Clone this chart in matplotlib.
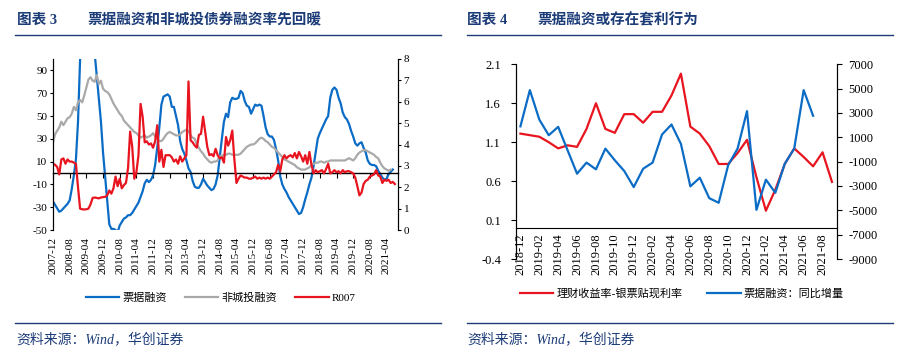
import numpy as np
import pandas as pd
import matplotlib
matplotlib.use('Agg')
import matplotlib.pyplot as plt
from matplotlib.lines import Line2D

plt.rcParams['font.family'] = ['Liberation Serif', 'Noto Sans CJK SC']
plt.rcParams['axes.unicode_minus'] = False

NAVY = '#1c3c78'
BLUE = '#0b6cc6'
RED = '#e8141f'
GRAY = '#a9a9a9'

# ---- left chart: monthly, 2007-12 .. 2021-08
months_l = pd.date_range('2007-12-01', periods=165, freq='MS').strftime('%Y-%m').tolist()

# 票据融资 yoy (%), left axis
bill_yoy = [-25, -28, -31, -34, -33, -31, -29, -27, -24, -14, -2, 12, 45, 100, 135, 155, 165, 160, 150, 130,
            105, 85, 65, 45, 18, -3, -25, -45, -49, -49, -50, -52, -46, -43, -40, -39, -37, -37, -35, -32,
            -29, -26, -21, -16, -9, -6, -8, -6, -2, 7, 22, 40, 60, 67, 68, 69, 67, 58, 58, 50,
            42, 28, 21, 17, 11, 4, 1, -7, -12, -13, -13, -10, -5, -8, -11, -13, -15, -14, -10, -2,
            14, 30, 45, 52, 49, 62, 66, 65, 65, 66, 72, 70, 63, 59, 58, 52, 56, 60, 59, 60,
            59, 50, 40, 34, 32, 32, 29, 21, 11, -3, -10, -14, -17, -21, -24, -27, -30, -33, -36, -35,
            -30, -23, -17, -10, -4, 6, 18, 30, 35, 39, 43, 47, 50, 66, 73, 75, 73, 66, 61, 53,
            49, 47, 43, 37, 32, 26, 24, 26, 27, 22, 18, 11, 8, 7, 7, 6, 2, -1, -4, -6,
            -5, -1, 1, 3]

# 非城投融资 (%), left axis
noncity = [27, 34, 37, 40, 45, 42, 45, 48, 49, 52, 58, 55, 62, 64, 62, 68, 75, 82, 84, 81,
           80, 86, 78, 81, 74, 72, 71, 69, 65, 61, 58, 55, 52, 50, 46, 44, 42, 40, 38, 36,
           35, 33, 31, 32, 33, 31, 32, 33, 35, 32, 30, 28, 28, 30, 33, 35, 36, 35, 34, 33,
           33, 34, 36, 37, 38, 37, 33, 31, 30, 25, 22, 19, 17, 14, 12, 10, 9, 10, 10, 11,
           15, 15, 16, 16, 17, 17, 16, 16, 16, 16, 17, 19, 21, 23, 24, 25, 25, 26, 28, 30,
           31, 30, 28, 27, 25, 23, 22, 20, 18, 16, 14, 12, 11, 10, 9, 8, 7, 5, 4, 3,
           3, 3, 4, 5, 7, 8, 9, 9, 10, 10, 9, 10, 10, 11, 11, 11, 11, 11, 11, 11,
           11, 12, 13, 12, 11, 13, 16, 18, 19, 20, 20, 19, 18, 17, 16, 14, 13, 9, 6, 4,
           3, 2, 3]

# R007 (%), right axis
r007 = [3.1, 3.05, 2.95, 2.6, 3.3, 3.35, 3.1, 3.3, 3.2, 3.2, 3.15, 3.1, 2.0, 1.0, 0.97, 0.96, 0.97, 1.0, 1.2, 1.5,
        1.52, 1.5, 1.48, 1.52, 1.54, 1.55, 1.62, 1.85, 1.7, 1.95, 2.5, 2.05, 2.4, 1.95, 2.1, 2.2, 2.9, 4.6, 3.9, 2.4,
        2.7, 3.5, 5.9, 5.3, 4.1, 4.15, 4.0, 4.05, 3.85, 4.15, 4.9, 3.2, 3.75, 2.95, 3.5, 3.5, 3.5, 3.4, 3.2, 3.3,
        3.1, 3.45, 3.2, 3.35, 3.5, 6.95, 4.2, 4.1, 3.95, 3.85, 4.45, 4.5, 5.3, 4.6, 3.9, 3.5, 3.55, 3.45, 3.8, 3.5,
        3.35, 3.4, 3.15, 4.35, 3.95, 4.2, 4.65, 3.3, 2.2, 2.4, 2.55, 2.5, 2.45, 2.45, 2.4, 2.4, 2.45, 2.5, 2.4, 2.45,
        2.4, 2.45, 2.4, 2.45, 2.4, 2.5, 2.6, 2.7, 3.05, 2.75, 3.3, 3.5, 3.35, 3.45, 3.5, 3.4, 3.6, 3.35, 3.65, 3.45,
        3.2, 3.5, 3.1, 3.65, 3.05, 2.65, 2.8, 2.7, 2.75, 2.8, 2.65, 2.85, 3.1, 2.65, 2.7, 2.8, 2.7, 2.75, 2.65, 2.8,
        2.7, 2.75, 2.75, 2.7, 2.65, 2.45, 2.05, 1.62, 1.75, 2.15, 2.3, 2.35, 2.5, 2.55, 2.6, 2.8, 2.55, 2.5, 2.2, 2.35,
        2.3, 2.35, 2.2, 2.25, 2.15]

# ---- right chart: monthly, 2018-12 .. 2021-09
months_r = pd.date_range('2018-12-01', periods=34, freq='MS').strftime('%Y-%m').tolist()

# 理财收益率-银票贴现利率, left axis
spread = [1.21, 1.19, 1.17, 1.10, 1.02, 1.06, 1.04, 1.27, 1.60, 1.27, 1.22, 1.46, 1.46, 1.35, 1.49, 1.49, 1.70,
          1.98, 1.30, 1.21, 1.05, 0.82, 0.82, 0.96, 1.13, 0.65, 0.22, 0.49, 0.82, 1.02, 0.91, 0.79, 0.97, 0.59]
# 票据融资：同比增量, right axis
bill_inc = [1900, 4880, 2460, 1170, 1860, -70, -1990, -1080, -1630, 70, -890, -1770, -3090, -1580, -1080, 1230,
            2050, 460, -3030, -2320, -4000, -4380, -1300, 70, 3150, -4960, -2480, -3560, -1170, 70, 4880, 2770]

W, H = 908, 357
fig = plt.figure(figsize=(W / 100, H / 100), dpi=100)


def fx(px):
    return px / W


def fy(py):
    return 1 - py / H


# ================= left chart =================
ax1 = fig.add_axes([fx(53), fy(230), fx(345), 171 / H])
xl = np.arange(len(months_l))
ax1.plot(xl[:len(bill_yoy)], bill_yoy, color=BLUE, lw=1.6, label='票据融资')
ax1.plot(xl[:len(noncity)], noncity, color=GRAY, lw=1.6, label='非城投融资')
ax1.set_ylim(-50, 100)
ax1.set_yticks(np.arange(-50, 91, 20))
ax1.set_xlim(0, 165.5)
ax1.spines['top'].set_visible(False)
ax1.spines['bottom'].set_position(('data', 0))
ax1.spines['bottom'].set_linewidth(1.0)
ticks_l = xl[::8]
ax1.set_xticks(ticks_l)
ax1.set_xticklabels([])
ax1.tick_params(axis='x', direction='out', length=3.5, width=0.8)
ax1.tick_params(axis='y', direction='out', length=2.5, width=0.8, labelsize=8, pad=1.5)

sec1 = ax1.secondary_xaxis('bottom')
sec1.set_xticks(ticks_l)
sec1.set_xticklabels([months_l[i] for i in ticks_l], rotation=90, fontsize=8)
sec1.tick_params(length=0, pad=5)
sec1.spines['bottom'].set_visible(False)

ax1r = ax1.twinx()
ax1r.plot(xl[:len(r007)], r007, color=RED, lw=1.6, label='R007')
ax1r.set_ylim(0, 8)
ax1r.set_yticks(np.arange(0, 9, 1))
ax1r.spines['top'].set_visible(False)
ax1r.spines['bottom'].set_visible(False)
ax1r.tick_params(axis='y', direction='out', length=2.5, width=0.8, labelsize=8, pad=1.5)
ax1r.set_xlim(0, 165.5)

h1 = ax1.get_lines() + ax1r.get_lines()
fig.legend(h1, [l.get_label() for l in h1], loc='center', bbox_to_anchor=(fx(221), fy(297.7)),
           ncol=3, frameon=False, fontsize=8, handlelength=3.0, handletextpad=0.3,
           columnspacing=1.6)

# ================= right chart =================
ax2 = fig.add_axes([fx(515.7), fy(259), fx(321), 194.7 / H])
xr = np.arange(len(months_r))
ax2.plot(xr[:len(spread)], spread, color=RED, lw=1.6, label='理财收益率-银票贴现利率')
ax2.set_ylim(-0.4, 2.1)
ax2.set_yticks(np.round(np.arange(-0.4, 2.11, 0.5), 1))
ax2.set_xlim(-0.5, len(months_r) - 0.5)
ax2.spines['top'].set_visible(False)
ax2.spines['bottom'].set_position(('data', 0))
ax2.set_xticks(xr[::2])
ax2.set_xticklabels([months_r[i] for i in xr[::2]], rotation=90, fontsize=9)
ax2.tick_params(axis='x', direction='out', length=0, pad=4)
ax2.tick_params(axis='y', direction='out', length=3.5, width=0.8, labelsize=9, pad=7)

ax2r = ax2.twinx()
ax2r.plot(xr[:len(bill_inc)], bill_inc, color=BLUE, lw=1.6, label='票据融资：同比增量')
ax2r.set_ylim(-9000, 7000)
ax2r.set_yticks(np.arange(-9000, 7001, 2000))
ax2r.spines['top'].set_visible(False)
ax2r.spines['bottom'].set_visible(False)
ax2r.tick_params(axis='y', direction='out', length=3.5, width=0.8, labelsize=9, pad=5)

h2 = ax2.get_lines() + ax2r.get_lines()
fig.legend(h2, [l.get_label() for l in h2], loc='center', bbox_to_anchor=(fx(682), fy(293.3)),
           ncol=2, frameon=False, fontsize=8, handlelength=3.0, handletextpad=0.3,
           columnspacing=2.2)

# ================= titles, rules, sources =================
tfont = ['Liberation Serif', 'Noto Sans CJK SC']
for x0, x1, num, title in [(16.7, 87, '图表 3', '票据融资和非城投债券融资率先回暖'),
                            (467, 537, '图表 4', '票据融资或存在套利行为')]:
    fig.text(fx(x0), fy(20.5), num, family=tfont, fontsize=10.5, fontweight='bold',
             color=NAVY, va='center', ha='left')
    fig.text(fx(x1), fy(20.5), title, family=tfont, fontsize=10.5, fontweight='bold',
             color=NAVY, va='center', ha='left')

for xa, xb in [(15, 441), (466.7, 893)]:
    for yy in (34.5, 322.7):
        fig.add_artist(Line2D([fx(xa), fx(xb)], [fy(yy), fy(yy)], color=NAVY, lw=1.0))
    fig.text(fx(xa + 1), fy(339), '资料来源：Wind，华创证券', family=tfont, fontsize=10,
             style='italic', color=NAVY, va='center', ha='left')

fig.savefig('out.png', dpi=100)
